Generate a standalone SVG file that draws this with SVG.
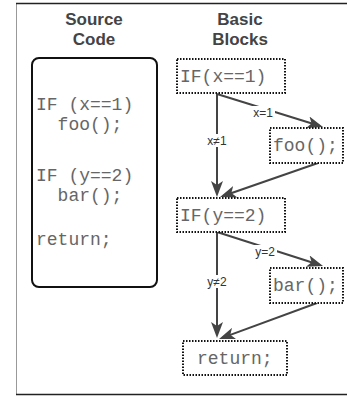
<svg xmlns="http://www.w3.org/2000/svg" width="347" height="397" viewBox="0 0 347 397">
<defs>
<style>
.title{font-family:"Liberation Sans",Arial,sans-serif;font-weight:bold;font-size:17px;fill:#444;text-anchor:middle}
.code{font-family:"Liberation Mono","Courier New",monospace;font-size:18px;fill:#666}
.blk{fill:#fff;stroke:#111;stroke-width:2;stroke-dasharray:1.5 1.5}
.edge{fill:none;stroke:#444;stroke-width:2}
.lbl{font-family:"Liberation Sans",Arial,sans-serif;font-size:12px;fill:#333;text-anchor:middle}
.lblbg{fill:#fff}
</style>
<marker id="arr" markerUnits="userSpaceOnUse" viewBox="0 0 16 12" refX="12" refY="6" markerWidth="16" markerHeight="12" orient="auto">
<path d="M0,0 L16,6 L0,12 L4,6 Z" fill="#444"/>
</marker>
</defs>
<rect width="347" height="397" fill="#fff"/>
<g id="frame">
<line x1="16.5" y1="3" x2="16.5" y2="394" stroke="#999" stroke-width="1"/>
<line x1="16" y1="3.5" x2="347" y2="3.5" stroke="#222" stroke-width="1.5"/>
<line x1="16" y1="394.5" x2="347" y2="394.5" stroke="#222" stroke-width="1.5"/>
</g>
<g id="source-title">
<text class="title" x="94" y="25">Source</text>
<text class="title" x="94" y="45">Code</text>
</g>
<g id="blocks-title">
<text class="title" x="240" y="25">Basic</text>
<text class="title" x="240" y="45">Blocks</text>
</g>
<g id="source-code">
<rect x="32" y="58" width="125" height="229" rx="7" fill="#fff" stroke="#111" stroke-width="2"/>
<text class="code" x="36" y="110">IF (x==1)</text>
<text class="code" x="57.6" y="130">foo();</text>
<text class="code" x="36" y="181">IF (y==2)</text>
<text class="code" x="57.6" y="201">bar();</text>
<text class="code" x="36" y="245">return;</text>
</g>
<g id="connectors">
<path class="edge" d="M217,94 L217,193" marker-end="url(#arr)"/>
<path class="edge" d="M217,94 L319.2,125.8" marker-end="url(#arr)"/>
<path class="edge" d="M318,163 L223.8,195.7" marker-end="url(#arr)"/>
<path class="edge" d="M217,232 L217,334" marker-end="url(#arr)"/>
<path class="edge" d="M217,232 L319.2,264.8" marker-end="url(#arr)"/>
<path class="edge" d="M317,303 L222.8,337.6" marker-end="url(#arr)"/>
<rect class="lblbg" x="251" y="106" width="24" height="13"/>
<text class="lbl" x="263" y="117">x=1</text>
<rect class="lblbg" x="205" y="134" width="24" height="13"/>
<text class="lbl" x="217" y="145">x≠1</text>
<rect class="lblbg" x="253" y="245" width="24" height="13"/>
<text class="lbl" x="265" y="256">y=2</text>
<rect class="lblbg" x="205" y="275" width="24" height="13"/>
<text class="lbl" x="217" y="286">y≠2</text>
</g>
<g id="block-if-x">
<rect class="blk" x="177" y="59" width="108" height="34"/>
<text class="code" x="180" y="82">IF(x==1)</text>
</g>
<g id="block-foo">
<rect class="blk" x="270" y="128" width="73" height="35"/>
<text class="code" x="273" y="151">foo();</text>
</g>
<g id="block-if-y">
<rect class="blk" x="177" y="198" width="108" height="34"/>
<text class="code" x="180" y="221">IF(y==2)</text>
</g>
<g id="block-bar">
<rect class="blk" x="270" y="268" width="73" height="35"/>
<text class="code" x="273" y="291">bar();</text>
</g>
<g id="block-return">
<rect class="blk" x="183" y="341" width="104" height="34"/>
<text class="code" x="197" y="364">return;</text>
</g>
</svg>
